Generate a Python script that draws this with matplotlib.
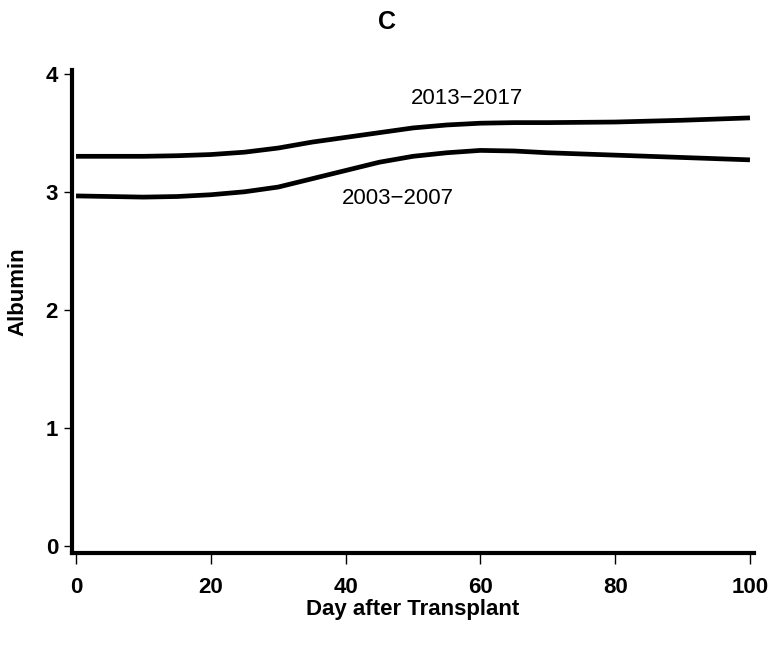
import matplotlib.pyplot as plt
import numpy as np

plt.rcParams['font.family'] = ['Liberation Sans', 'DejaVu Sans']

# smoothed albumin curves
days = [0, 5, 10, 15, 20, 25, 30, 35, 40, 45, 50, 55, 60, 65, 70, 80, 90, 100]
alb_2013 = [3.30, 3.30, 3.30, 3.305, 3.315, 3.335, 3.37, 3.42, 3.46, 3.50, 3.54, 3.565, 3.58, 3.585, 3.585, 3.59, 3.605, 3.625]
alb_2003 = [2.965, 2.96, 2.955, 2.96, 2.975, 3.00, 3.04, 3.11, 3.18, 3.25, 3.30, 3.33, 3.35, 3.345, 3.33, 3.31, 3.29, 3.27]

labels = ['2013\u22122017', '2003\u22122007']
label_pos = [(58, 3.79), (47.8, 2.945)]

xticks = [0, 20, 40, 60, 80, 100]
yticks = [0, 1, 2, 3, 4]

fig = plt.figure(figsize=(7.72, 6.49), dpi=100)
ax = fig.add_axes([72 / 772, 1 - 553 / 649, (754 - 72) / 772, (553 - 70) / 649])

ax.plot(days, alb_2013, color='black', lw=3.4, solid_capstyle='butt')
ax.plot(days, alb_2003, color='black', lw=3.4, solid_capstyle='butt')

for txt, (x, y) in zip(labels, label_pos):
    ax.text(x, y, txt, fontsize=16, ha='center', va='center')

ax.set_xlim(-0.6, 100.6)
ax.set_ylim(-0.055, 4.03)
ax.set_xticks(xticks)
ax.set_yticks(yticks)

for s in ['top', 'right']:
    ax.spines[s].set_visible(False)
for s in ['left', 'bottom']:
    ax.spines[s].set_linewidth(3)

ax.tick_params(axis='x', length=8, width=1, pad=9, labelsize=16)
ax.tick_params(axis='y', length=6, width=1, pad=4, labelsize=16)
for lab in ax.get_xticklabels() + ax.get_yticklabels():
    lab.set_fontweight('bold')

ax.set_xlabel('Day after Transplant', fontsize=16, fontweight='bold')
ax.xaxis.set_label_coords(0.5, -0.095)
ax.set_ylabel('Albumin', fontsize=16, fontweight='bold')
ax.yaxis.set_label_coords(-0.064, 0.54)

fig.text(387 / 772, 1 - 22 / 649, 'C', fontsize=18, fontweight='bold', ha='center', va='center')

plt.savefig('out.png', dpi=100)
